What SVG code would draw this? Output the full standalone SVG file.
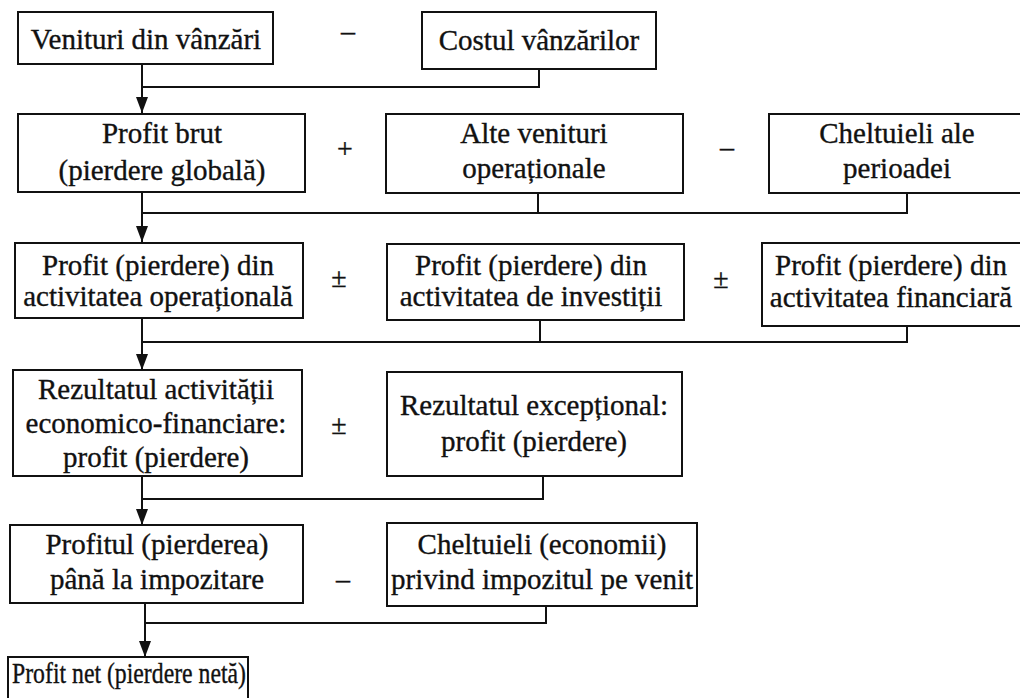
<svg xmlns="http://www.w3.org/2000/svg" width="1020" height="698" viewBox="0 0 1020 698">
  <style>
    .box { fill: #ffffff; stroke: #111111; stroke-width: 2; }
    text { font-family: 'Liberation Serif', Tinos, 'DejaVu Serif', 'Noto Serif', serif; fill: #111111; stroke: #111111; stroke-width: 0.35; text-anchor: middle; }
    .lbl { font-size: 29px; }
    .op { font-size: 28px; }
    .wire { fill: none; stroke: #111111; stroke-width: 2; }
    .flow { fill: none; stroke: #111111; stroke-width: 2; marker-end: url(#arrow); }
  </style>
  <defs>
    <!-- arrowhead drawn along +x, rotated with the line direction -->
    <marker id="arrow" markerUnits="userSpaceOnUse" markerWidth="16" markerHeight="12" viewBox="0 0 16 12" refX="16" refY="6" orient="auto">
      <path d="M0,0 L16,6 L0,12 Z" fill="#111111"/>
    </marker>
  </defs>
  <rect width="1020" height="698" fill="#ffffff"/>

  <!-- connectors -->
  <g id="connectors">
    <path class="wire" d="M539,69 V87 H142"/>
    <path class="flow" d="M142,64 V113"/>
    <path class="wire" d="M907,193 V213 H142 M538,193 V213"/>
    <path class="flow" d="M142,192 V242"/>
    <path class="wire" d="M907,326 V342 H142 M540,320 V342"/>
    <path class="flow" d="M142,318 V370"/>
    <path class="wire" d="M543,476 V499 H142"/>
    <path class="flow" d="M142,476 V525"/>
    <path class="wire" d="M546,606 V623 H145"/>
    <path class="flow" d="M145,603 V657"/>
  </g>

  <!-- operators -->
  <g id="operators">
    <text class="op" x="348" y="40">–</text>
    <text class="op" x="345" y="158">+</text>
    <text class="op" x="727" y="156">–</text>
    <text class="op" x="339" y="287">±</text>
    <text class="op" x="721" y="288">±</text>
    <text class="op" x="339" y="434">±</text>
    <text class="op" x="343" y="588">–</text>
  </g>

  <g id="venituri">
    <rect class="box" x="18" y="12" width="255" height="52"/>
    <text class="lbl" x="146" y="49">Venituri din vânzări</text>
  </g>
  <g id="costul">
    <rect class="box" x="422" y="12" width="234" height="57"/>
    <text class="lbl" x="539" y="50">Costul vânzărilor</text>
  </g>

  <g id="profit-brut">
    <rect class="box" x="18" y="114" width="287" height="78"/>
    <text class="lbl" x="162" y="143">Profit brut</text>
    <text class="lbl" x="162" y="180">(pierdere globală)</text>
  </g>
  <g id="alte-venituri">
    <rect class="box" x="386" y="114" width="297" height="79"/>
    <text class="lbl" x="534" y="143">Alte venituri</text>
    <text class="lbl" x="534" y="178">operaționale</text>
  </g>
  <g id="cheltuieli-perioadei">
    <rect class="box" x="769" y="114" width="262" height="79"/>
    <text class="lbl" x="897" y="143">Cheltuieli ale</text>
    <text class="lbl" x="897" y="178">perioadei</text>
  </g>

  <g id="activ-operationala">
    <rect class="box" x="15" y="243" width="288" height="75"/>
    <text class="lbl" x="158" y="275">Profit (pierdere) din</text>
    <text class="lbl" x="158" y="306">activitatea operațională</text>
  </g>
  <g id="activ-investitii">
    <rect class="box" x="387" y="244" width="297" height="76"/>
    <text class="lbl" x="531" y="275">Profit (pierdere) din</text>
    <text class="lbl" x="531" y="306">activitatea de investiții</text>
  </g>
  <g id="activ-financiara">
    <rect class="box" x="762" y="243" width="270" height="83"/>
    <text class="lbl" x="891" y="275">Profit (pierdere) din</text>
    <text class="lbl" x="891" y="307">activitatea financiară</text>
  </g>

  <g id="rezultat-economico-financiar">
    <rect class="box" x="13" y="370" width="289" height="106"/>
    <text class="lbl" x="156" y="399">Rezultatul activității</text>
    <text class="lbl" x="156" y="433">economico-financiare:</text>
    <text class="lbl" x="156" y="467">profit (pierdere)</text>
  </g>
  <g id="rezultat-exceptional">
    <rect class="box" x="387" y="372" width="295" height="104"/>
    <text class="lbl" x="534" y="415">Rezultatul excepțional:</text>
    <text class="lbl" x="534" y="451">profit (pierdere)</text>
  </g>

  <g id="profit-impozitare">
    <rect class="box" x="10" y="525" width="293" height="78"/>
    <text class="lbl" x="157" y="554">Profitul (pierderea)</text>
    <text class="lbl" x="157" y="589">până la impozitare</text>
  </g>
  <g id="impozit-venit">
    <rect class="box" x="387" y="523" width="310" height="83"/>
    <text class="lbl" x="542" y="554">Cheltuieli (economii)</text>
    <text class="lbl" x="542" y="589">privind impozitul pe venit</text>
  </g>

  <g id="profit-net">
    <rect class="box" x="8" y="657" width="240" height="50"/>
    <text class="lbl" x="129" y="683" textLength="234" lengthAdjust="spacingAndGlyphs">Profit net (pierdere netă)</text>
  </g>
</svg>
